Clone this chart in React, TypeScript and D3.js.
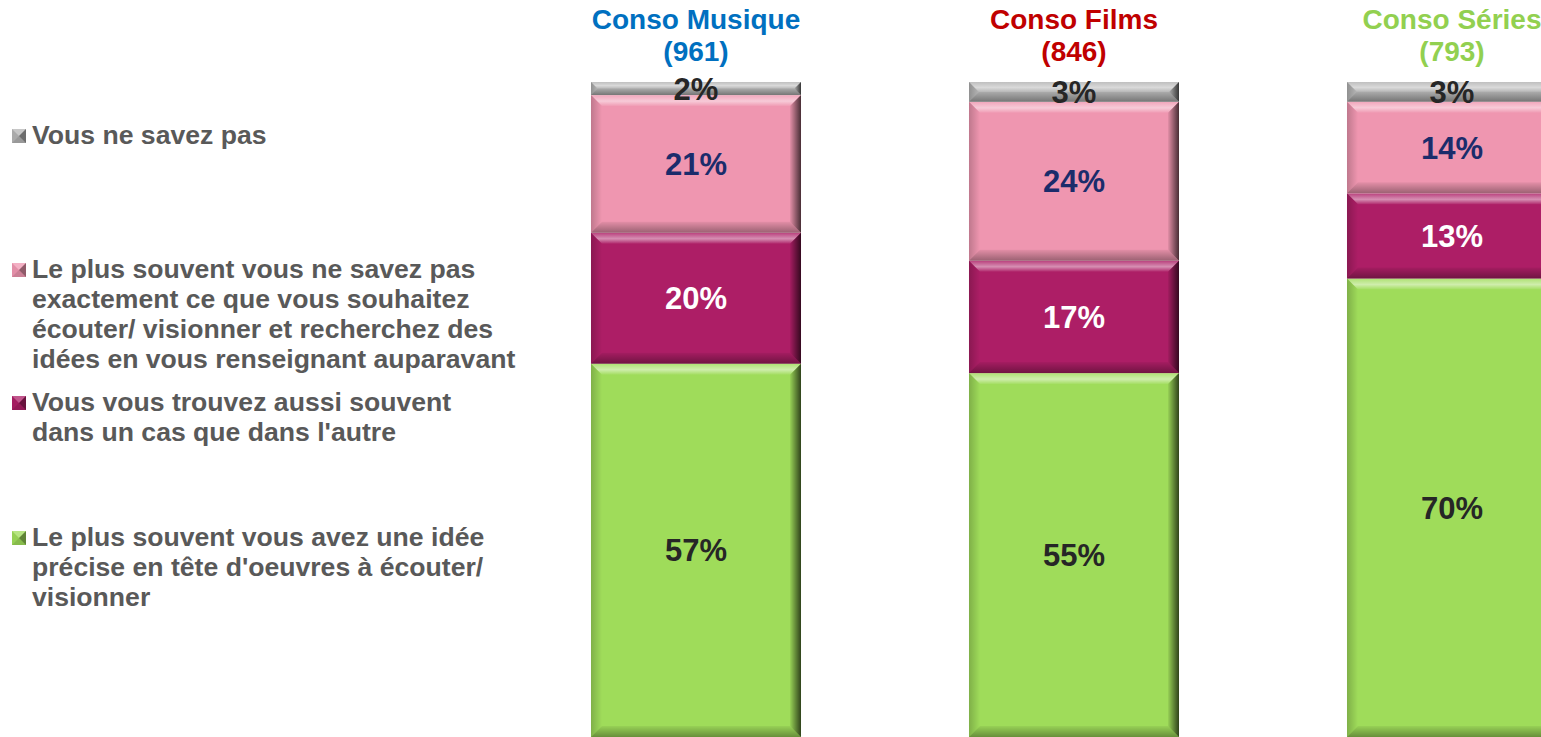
import React from "react";
import * as d3 from "d3";

const categories = ["Conso Musique", "Conso Films", "Conso Séries"];
const sampleSizes = ["(961)", "(846)", "(793)"];
const titleColors = ["#0070C0", "#C00000", "#92D050"];

const seriesKeys = ["idee", "aussi", "renseigne", "nsp"];
const seriesColors = ["#9FDC5A", "#AD1E66", "#EF96B0", "#B4B4B4"];
const labelColors = ["#262626", "#FFFFFF", "#1B2C6B", "#262626"];

const ideeValues = [57, 55, 70];
const aussiValues = [20, 17, 13];
const renseigneValues = [21, 24, 14];
const nspValues = [2, 3, 3];

const legendEntries = [
  { key: "nsp", lines: ["Vous ne savez pas"], y: 144 },
  {
    key: "renseigne",
    lines: [
      "Le plus souvent vous ne savez pas",
      "exactement ce que vous souhaitez",
      "écouter/ visionner et recherchez des",
      "idées en vous renseignant auparavant",
    ],
    y: 278,
  },
  { key: "aussi", lines: ["Vous vous trouvez aussi souvent", "dans un cas que dans l'autre"], y: 411 },
  {
    key: "idee",
    lines: ["Le plus souvent vous avez une idée", "précise en tête d'oeuvres à écouter/", "visionner"],
    y: 546,
  },
];

const W = 1541;
const H = 737;
const FONT = "'Liberation Sans', Arial, Helvetica, sans-serif";

export default function App() {
  const table = categories.map((c, i) => ({
    cat: c,
    idee: ideeValues[i],
    aussi: aussiValues[i],
    renseigne: renseigneValues[i],
    nsp: nspValues[i],
  }));
  const stack = d3.stack<any>().keys(seriesKeys).offset(d3.stackOffsetExpand);
  const layers = stack(table);

  const x = d3
    .scaleBand<string>()
    .domain(categories)
    .range([507, 507 + 378 * 3])
    .paddingInner(0.4444)
    .paddingOuter(0.2222);
  const y = d3.scaleLinear().domain([0, 1]).range([737, 82]);
  const bw = x.bandwidth();

  const colorOf = (k: string) => seriesColors[seriesKeys.indexOf(k)];

  const bevel = (bx: number, by: number, w: number, h: number, key: string) => {
    const b = Math.min(11, h / 2, w / 2);
    const pts = (arr: number[][]) => arr.map((p) => p.join(",")).join(" ");
    return (
      <g key={key}>
        <polygon points={pts([[bx, by], [bx + w, by], [bx + w - b, by + b], [bx + b, by + b]])} fill="url(#bevTop)" />
        <polygon
          points={pts([[bx, by + h], [bx + w, by + h], [bx + w - b, by + h - b], [bx + b, by + h - b]])}
          fill="url(#bevBot)"
        />
        <polygon points={pts([[bx, by], [bx + b, by + b], [bx + b, by + h - b], [bx, by + h]])} fill="url(#bevLeft)" />
        <polygon
          points={pts([[bx + w, by], [bx + w - b, by + b], [bx + w - b, by + h - b], [bx + w, by + h]])}
          fill="url(#bevRight)"
        />
      </g>
    );
  };

  const marker = (mx: number, my: number, color: string) => {
    const s = 14;
    const c = [mx + s / 2, my + s / 2];
    const p = (arr: number[][]) => arr.map((q) => q.join(",")).join(" ");
    return (
      <g>
        <rect x={mx} y={my} width={s} height={s} fill={color} />
        <polygon points={p([[mx, my], [mx + s, my], c])} fill="#fff" fillOpacity={0.25} />
        <polygon points={p([[mx, my + s], [mx + s, my + s], c])} fill="#000" fillOpacity={0.15} />
        <polygon points={p([[mx, my], [mx, my + s], c])} fill="#000" fillOpacity={0.05} />
        <polygon points={p([[mx + s, my], [mx + s, my + s], c])} fill="#000" fillOpacity={0.4} />
      </g>
    );
  };

  return (
    <div style={{ position: "fixed", left: 0, top: 0 }}>
      <svg width={W} height={H} style={{ display: "block" }} fontFamily={FONT}>
        <defs>
          <linearGradient id="bevTop" x1="0" y1="0" x2="0" y2="1">
            <stop offset="0" stopColor="#fff" stopOpacity={0.15} />
            <stop offset="0.55" stopColor="#fff" stopOpacity={0.5} />
            <stop offset="1" stopColor="#fff" stopOpacity={0.05} />
          </linearGradient>
          <linearGradient id="bevBot" x1="0" y1="1" x2="0" y2="0">
            <stop offset="0" stopColor="#000" stopOpacity={0.35} />
            <stop offset="1" stopColor="#000" stopOpacity={0.05} />
          </linearGradient>
          <linearGradient id="bevLeft" x1="0" y1="0" x2="1" y2="0">
            <stop offset="0" stopColor="#000" stopOpacity={0.2} />
            <stop offset="1" stopColor="#000" stopOpacity={0.0} />
          </linearGradient>
          <linearGradient id="bevRight" x1="1" y1="0" x2="0" y2="0">
            <stop offset="0" stopColor="#000" stopOpacity={0.7} />
            <stop offset="1" stopColor="#000" stopOpacity={0.05} />
          </linearGradient>
        </defs>
        <rect width={W} height={H} fill="#fff" />

        {layers.map((layer) => (
          <g key={layer.key}>
            {layer.map((d, i) => {
              const bx = x(categories[i]) as number;
              const y0 = y(d[1]);
              const h = y(d[0]) - y(d[1]);
              return (
                <g key={i}>
                  <rect x={bx} y={y0} width={bw} height={h} fill={colorOf(layer.key)} />
                  {bevel(bx, y0, bw, h, "b" + i)}
                </g>
              );
            })}
          </g>
        ))}

        {layers.map((layer, li) => (
          <g key={"l" + layer.key}>
            {layer.map((d, i) => {
              const bx = x(categories[i]) as number;
              const cy = (y(d[0]) + y(d[1])) / 2;
              const v = (table[i] as any)[layer.key];
              return (
                <text
                  key={i}
                  x={bx + bw / 2}
                  y={cy}
                  dy="0.36em"
                  textAnchor="middle"
                  fontSize={31}
                  fontWeight="bold"
                  fill={labelColors[li]}
                >
                  {v}%
                </text>
              );
            })}
          </g>
        ))}

        {categories.map((c, i) => {
          const cx = (x(c) as number) + bw / 2;
          return (
            <g key={"t" + i} fontWeight="bold" fontSize={28} fill={titleColors[i]} textAnchor="middle">
              <text x={cx} y={29}>
                {c}
              </text>
              <text x={cx} y={61}>
                {sampleSizes[i]}
              </text>
            </g>
          );
        })}

        {legendEntries.map((e) => (
          <g key={"lg" + e.key}>
            {marker(12, e.y - 15, colorOf(e.key))}
            {e.lines.map((ln, j) => (
              <text key={j} x={32} y={e.y + j * 30} fontSize={26.6} fontWeight="bold" fill="#595959">
                {ln}
              </text>
            ))}
          </g>
        ))}
      </svg>
    </div>
  );
}
